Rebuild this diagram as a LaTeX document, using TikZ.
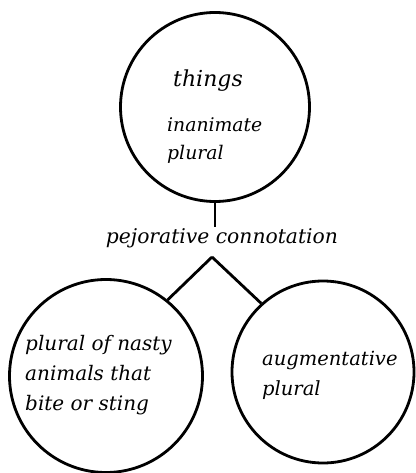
\documentclass[tikz,border=0pt]{standalone}
\usepackage{fontspec}
\setmainfont{DejaVu Serif}
\usetikzlibrary{positioning}
\tikzset{
  ring/.style={draw, circle, line width=2.8pt, inner sep=0pt},
  conn/.style={line width=2.8pt},
  lbl/.style={inner sep=0pt, align=left},
}
\begin{document}
\begin{tikzpicture}[x=1pt,y=-1pt]
\useasboundingbox (0,0) rectangle (415,473);
\node[ring, minimum size=189pt] (top) at (215,107) {};
\node[ring, minimum size=193pt] (left) at (106,376) {};
\node[ring, minimum size=182pt] (right) at (323,372) {};
\node[lbl, font=\itshape\fontsize{22}{28}\selectfont, anchor=base] (things) at (208,87) {things};
\node[lbl, font=\itshape\fontsize{18.8}{28}\selectfont, anchor=base west] (inan) at (167,160) {inanimate\\plural};
\node[lbl, font=\itshape\fontsize{20.3}{30}\selectfont, anchor=base] (pej) at (222,243) {pejorative connotation};
\node[lbl, font=\itshape\fontsize{20}{30}\selectfont, anchor=base west] (nasty) at (25,410) {plural of nasty\\animals that\\bite or sting};
\node[lbl, font=\itshape\fontsize{19.5}{30}\selectfont, anchor=base west] (aug) at (262,395) {augmentative\\plural};
\coordinate (stem) at (215,227);
\coordinate (apex) at (212,257);
\draw[conn] (top.south) -- (stem);
\draw[conn] (apex) -- (left.51);
\draw[conn] (apex) -- (right.132);
\end{tikzpicture}
\end{document}
